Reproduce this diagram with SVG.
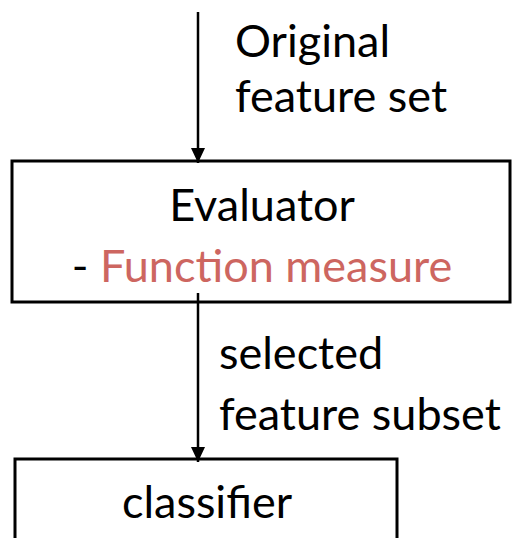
<svg xmlns="http://www.w3.org/2000/svg" width="512" height="538" viewBox="0 0 512 538">
<style>
.box{fill:#fff;stroke:#000;stroke-width:3}
.conn{stroke:#000;stroke-width:2.5;fill:none}
.t{font-family:Lato,"Open Sans",sans-serif;font-size:45px;fill:#000}
.red{fill:#CD6660}
</style>
<defs>
<marker id="ah" markerUnits="userSpaceOnUse" markerWidth="16" markerHeight="14" refX="15" refY="7" orient="auto">
<path d="M0,0 L15,7 L0,14 Z" fill="#000"/>
</marker>
</defs>
<g id="evaluator">
<rect class="box" x="12" y="161" width="498" height="141"/>
<text class="t" x="262" y="221" text-anchor="middle">Evaluator</text>
<text class="t" x="262" y="282" text-anchor="middle">- <tspan class="red">Function measure</tspan></text>
</g>
<g id="classifier">
<rect class="box" x="15" y="459" width="382" height="100"/>
<text class="t" x="207" y="518" text-anchor="middle">classifier</text>
</g>
<g id="connectors">
<line class="conn" x1="198" y1="12" x2="198" y2="163" marker-end="url(#ah)"/>
<line class="conn" x1="198" y1="293" x2="198" y2="462" marker-end="url(#ah)"/>
</g>
<g id="labels">
<text class="t" x="235" y="57">Original</text>
<text class="t" x="235" y="112">feature set</text>
<text class="t" x="219" y="369">selected</text>
<text class="t" x="219" y="430">feature subset</text>
</g>
</svg>
